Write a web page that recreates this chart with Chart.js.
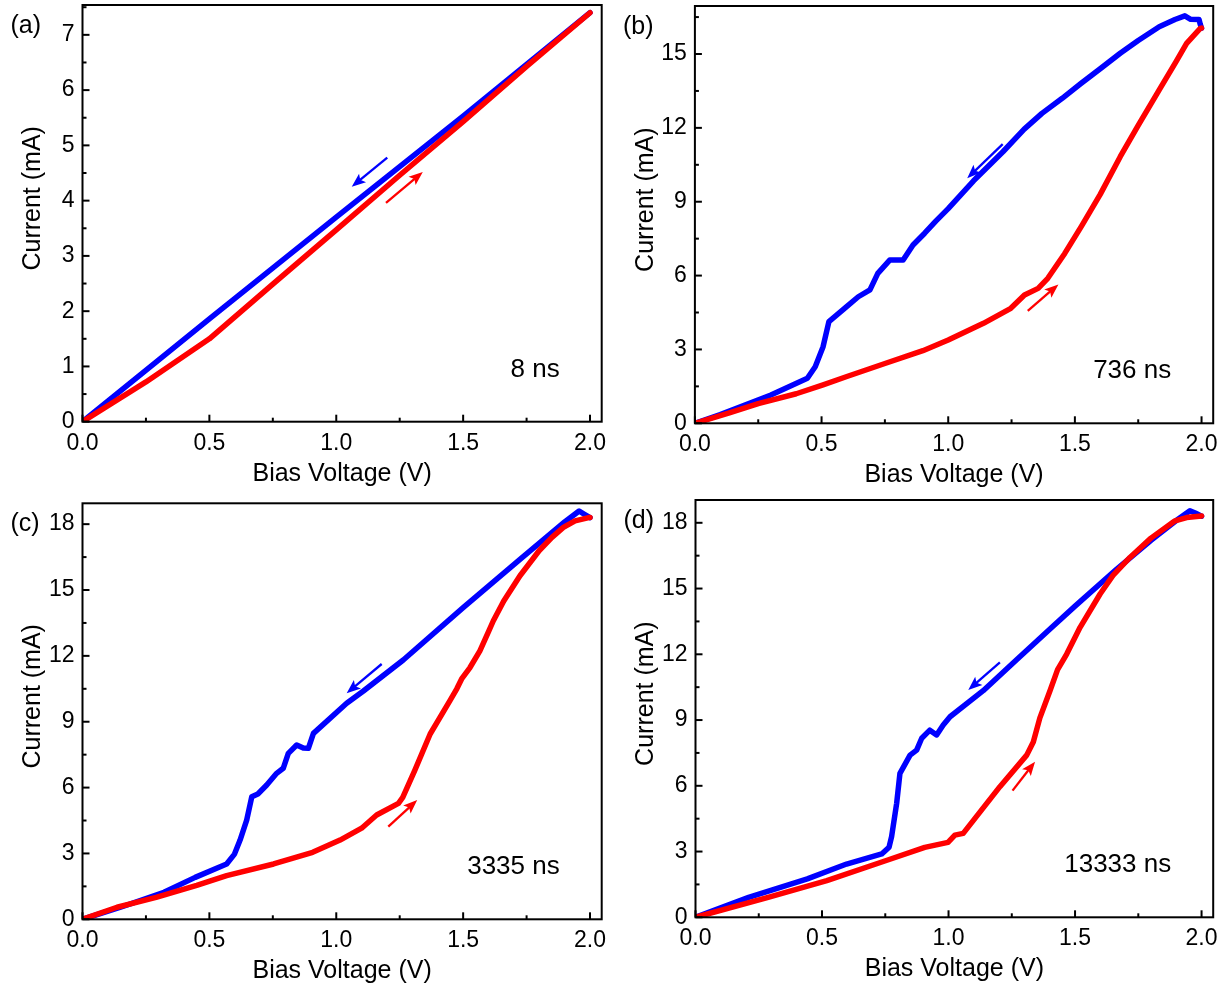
<!DOCTYPE html>
<html><head><meta charset="utf-8">
<script src="https://cdn.jsdelivr.net/npm/chart.js@4.4.1/dist/chart.umd.min.js"></script>
<style>
html,body{margin:0;padding:0;background:#fff;}
#fig{position:relative;width:1225px;height:988px;overflow:hidden;background:#fff;}
canvas{position:absolute;}
</style></head><body>
<div id="fig">
<canvas id="pa" width="612" height="494" style="left:0px;top:0px;width:612px;height:494px"></canvas>
<canvas id="pb" width="613" height="494" style="left:612px;top:0px;width:613px;height:494px"></canvas>
<canvas id="pc" width="612" height="494" style="left:0px;top:494px;width:612px;height:494px"></canvas>
<canvas id="pd" width="613" height="494" style="left:612px;top:494px;width:613px;height:494px"></canvas>
</div>
<script>
// ---------- data ----------
const xTickValues = [0.0, 0.5, 1.0, 1.5, 2.0];
const xTickLabels = ['0.0', '0.5', '1.0', '1.5', '2.0'];
const aYTicks = [0, 1, 2, 3, 4, 5, 6, 7];
const bYTicks = [0, 3, 6, 9, 12, 15];
const cYTicks = [0, 3, 6, 9, 12, 15, 18];
const dYTicks = [0, 3, 6, 9, 12, 15, 18];
const panelLabels = ['(a)', '(b)', '(c)', '(d)'];
const pulseWidths = ['8 ns', '736 ns', '3335 ns', '13333 ns'];
const xTitle = 'Bias Voltage (V)';
const yTitle = 'Current (mA)';

// (a) 8 ns
const aBlueV = [2.0, 1.5, 1.0, 0.5, 0.0];
const aBlueI = [7.40, 5.53, 3.70, 1.86, 0.0];
const aRedV = [0.0, 0.25, 0.5, 0.75, 1.0, 1.25, 1.5, 1.75, 2.0];
const aRedI = [0.0, 0.72, 1.50, 2.49, 3.47, 4.46, 5.43, 6.43, 7.40];
// (b) 736 ns
const bBlueV = [2.0, 1.995, 1.99, 1.957, 1.934, 1.895, 1.833, 1.75, 1.679, 1.6, 1.525, 1.45, 1.37, 1.3, 1.216, 1.1, 1.0, 0.95, 0.907, 0.861, 0.822, 0.769, 0.722, 0.691, 0.645, 0.599, 0.529, 0.506, 0.475, 0.444, 0.3, 0.2, 0.1, 0.0];
const bBlueI = [16.05, 16.2, 16.4, 16.41, 16.55, 16.4, 16.11, 15.55, 15.03, 14.4, 13.81, 13.2, 12.59, 11.95, 11.03, 9.85, 8.72, 8.2, 7.72, 7.24, 6.63, 6.63, 6.09, 5.42, 5.14, 4.74, 4.13, 3.11, 2.3, 1.83, 1.15, 0.75, 0.35, 0.0];
const bRedV = [0.0, 0.136, 0.25, 0.4, 0.506, 0.6, 0.753, 0.9, 1.0, 1.139, 1.247, 1.301, 1.355, 1.393, 1.46, 1.525, 1.6, 1.679, 1.75, 1.833, 1.9, 1.941, 1.995, 2.0];
const bRedI = [0.0, 0.42, 0.8, 1.2, 1.56, 1.9, 2.44, 2.95, 3.38, 4.06, 4.67, 5.21, 5.48, 5.89, 6.9, 7.99, 9.3, 10.83, 12.1, 13.54, 14.7, 15.43, 16.04, 16.05];
// (c) 3335 ns
const cBlueV = [2.0, 1.978, 1.957, 1.9, 1.724, 1.5, 1.264, 1.107, 1.041, 0.91, 0.89, 0.87, 0.844, 0.811, 0.791, 0.765, 0.726, 0.691, 0.667, 0.647, 0.621, 0.599, 0.568, 0.444, 0.321, 0.15, 0.0];
const cBlueI = [18.3, 18.45, 18.6, 18.1, 16.4, 14.2, 11.81, 10.4, 9.84, 8.47, 7.79, 7.8, 7.94, 7.56, 6.88, 6.65, 6.12, 5.71, 5.58, 4.52, 3.61, 2.97, 2.52, 1.91, 1.23, 0.55, 0.0];
const cRedV = [0.0, 0.136, 0.29, 0.45, 0.568, 0.753, 0.907, 1.015, 1.1, 1.159, 1.245, 1.262, 1.309, 1.37, 1.448, 1.475, 1.494, 1.527, 1.566, 1.6, 1.619, 1.66, 1.724, 1.8, 1.85, 1.895, 1.941, 1.995, 2.0];
const cRedI = [0.0, 0.55, 1.0, 1.55, 1.99, 2.52, 3.05, 3.61, 4.15, 4.75, 5.28, 5.55, 6.77, 8.44, 9.96, 10.5, 10.95, 11.47, 12.23, 13.1, 13.6, 14.5, 15.65, 16.8, 17.4, 17.85, 18.15, 18.3, 18.3];
// (d) 13333 ns
const dBlueV = [2.0, 1.975, 1.954, 1.9, 1.8, 1.665, 1.5, 1.401, 1.269, 1.137, 1.006, 0.979, 0.953, 0.926, 0.894, 0.874, 0.848, 0.808, 0.795, 0.775, 0.765, 0.736, 0.597, 0.442, 0.21, 0.0];
const dBlueI = [18.3, 18.45, 18.55, 18.1, 17.2, 15.89, 14.2, 13.15, 11.75, 10.34, 9.15, 8.77, 8.32, 8.54, 8.17, 7.63, 7.40, 6.57, 5.2, 3.68, 3.2, 2.89, 2.43, 1.75, 0.91, 0.0];
const dRedV = [0.0, 0.287, 0.519, 0.751, 0.906, 0.998, 1.025, 1.058, 1.203, 1.309, 1.335, 1.361, 1.401, 1.431, 1.467, 1.52, 1.599, 1.65, 1.717, 1.8, 1.895, 1.941, 2.0];
const dRedI = [0.0, 0.91, 1.67, 2.58, 3.19, 3.42, 3.75, 3.83, 5.96, 7.40, 8.0, 9.1, 10.34, 11.3, 12.01, 13.23, 14.75, 15.6, 16.42, 17.3, 18.09, 18.24, 18.31];

// direction arrows [tail, tip] in data units (V, mA)
const aArrowBlue = [[1.201, 4.78], [1.061, 4.25]];
const aArrowRed  = [[1.196, 3.96], [1.341, 4.52]];
const bArrowBlue = [[1.215, 11.34], [1.075, 9.95]];
const bArrowRed  = [[1.314, 4.57], [1.435, 5.64]];
const cArrowBlue = [[1.179, 11.63], [1.041, 10.30]];
const cArrowRed  = [[1.205, 4.22], [1.319, 5.43]];
const dArrowBlue = [[1.203, 11.63], [1.078, 10.37]];
const dArrowRed  = [[1.253, 5.78], [1.342, 7.10]];

// ---------- style / layout ----------
const FONT = "'Liberation Sans', Arial, Helvetica, sans-serif";
const BLUE = '#0000ff';
const RED = '#ff0000';
const INK = '#000000';

const panels = [
  {id:'pa', box:[0,0,612,494], area:[82.5,5,601.7,421.7], xMax:2.046, yMax:7.54, yMinor:0.5, yTicks:aYTicks,
   blueV:aBlueV, blueI:aBlueI, redV:aRedV, redI:aRedI, arrowBlue:aArrowBlue, arrowRed:aArrowRed, label:panelLabels[0], note:pulseWidths[0]},
  {id:'pb', box:[612,0,613,494], area:[694.9,6,1213.2,423.3], xMax:2.046, yMax:16.95, yMinor:1.5, yTicks:bYTicks,
   blueV:bBlueV, blueI:bBlueI, redV:bRedV, redI:bRedI, arrowBlue:bArrowBlue, arrowRed:bArrowRed, label:panelLabels[1], note:pulseWidths[1]},
  {id:'pc', box:[0,494,612,494], area:[82.5,503.3,601.7,919.3], xMax:2.046, yMax:18.95, yMinor:1.5, yTicks:cYTicks,
   blueV:cBlueV, blueI:cBlueI, redV:cRedV, redI:cRedI, arrowBlue:cArrowBlue, arrowRed:cArrowRed, label:panelLabels[2], note:pulseWidths[2]},
  {id:'pd', box:[612,494,613,494], area:[695.5,500,1213.2,917.3], xMax:2.046, yMax:19.04, yMinor:1.5, yTicks:dYTicks,
   blueV:dBlueV, blueI:dBlueI, redV:dRedV, redI:dRedI, arrowBlue:dArrowBlue, arrowRed:dArrowRed, label:panelLabels[3], note:pulseWidths[3]}
];

function near(a, b) { return Math.abs(a - b) < 1e-6; }
function onStep(v, step) { return near(v / step, Math.round(v / step)); }

function drawArrow(ctx, xs, ys, pts, color) {
  const x1 = xs.getPixelForValue(pts[0][0]), y1 = ys.getPixelForValue(pts[0][1]);
  const x2 = xs.getPixelForValue(pts[1][0]), y2 = ys.getPixelForValue(pts[1][1]);
  const ang = Math.atan2(y2 - y1, x2 - x1);
  const hl = 14, hw = 5.5;
  const c = Math.cos(ang), s = Math.sin(ang);
  const bx = x2 - hl * c, by = y2 - hl * s;
  ctx.strokeStyle = color; ctx.fillStyle = color; ctx.lineWidth = 2.3; ctx.lineCap = 'butt';
  ctx.beginPath(); ctx.moveTo(x1, y1); ctx.lineTo(bx + 4 * c, by + 4 * s); ctx.stroke();
  ctx.beginPath();
  ctx.moveTo(x2, y2);
  ctx.lineTo(bx + hw * s, by - hw * c);
  ctx.lineTo(bx + 3 * c, by + 3 * s);
  ctx.lineTo(bx - hw * s, by + hw * c);
  ctx.closePath(); ctx.fill();
}

function makePanel(p) {
  const [x0, y0, w, h] = p.box;
  const [L, T, R, B] = p.area;
  const padTop = T - y0, padRight = x0 + w - R, yW = L - x0, xH = y0 + h - B;
  const pts = (xs, ys) => xs.map((v, i) => ({x: v, y: ys[i]}));

  const decor = {
    id: 'decor_' + p.id,
    afterDraw(chart) {
      const ctx = chart.ctx, a = chart.chartArea, xs = chart.scales.x, ys = chart.scales.y;
      ctx.save();
      // arrows
      drawArrow(ctx, xs, ys, p.arrowBlue, BLUE);
      drawArrow(ctx, xs, ys, p.arrowRed, RED);
      // frame
      ctx.strokeStyle = INK; ctx.lineWidth = 2; ctx.lineCap = 'butt';
      ctx.strokeRect(a.left, a.top, a.right - a.left, a.bottom - a.top);
      // inward ticks
      xs.ticks.forEach(t => {
        if (!onStep(t.value, 0.25)) return;
        const major = xTickValues.some(v => near(v, t.value));
        const len = major ? 7 : 4;
        const px = xs.getPixelForValue(t.value);
        ctx.beginPath(); ctx.moveTo(px, a.bottom); ctx.lineTo(px, a.bottom - len); ctx.stroke();
      });
      ys.ticks.forEach(t => {
        if (!onStep(t.value, p.yMinor)) return;
        const major = p.yTicks.some(v => near(v, t.value));
        const len = major ? 7 : 4;
        const py = ys.getPixelForValue(t.value);
        ctx.beginPath(); ctx.moveTo(a.left, py); ctx.lineTo(a.left + len, py); ctx.stroke();
      });
      // texts
      ctx.fillStyle = INK;
      ctx.textBaseline = 'middle';
      ctx.font = '25px ' + FONT;
      ctx.textAlign = 'left';
      ctx.fillText(p.label, a.left - 72, a.top + 21);
      ctx.font = '26px ' + FONT;
      ctx.textAlign = 'right';
      ctx.fillText(p.note, a.right - 42, a.bottom - 52);
      ctx.font = '25px ' + FONT;
      ctx.textAlign = 'center';
      ctx.fillText(xTitle, (a.left + a.right) / 2, a.bottom + 52);
      ctx.save();
      ctx.translate(a.left - 49, (a.top + a.bottom) / 2 - 15);
      ctx.rotate(-Math.PI / 2);
      ctx.fillText(yTitle, 0, 0);
      ctx.restore();
      ctx.restore();
    }
  };

  const lineStyle = {showLine: true, borderWidth: 5.5, pointRadius: 0, pointHoverRadius: 0,
    borderJoinStyle: 'round', borderCapStyle: 'round', tension: 0, fill: false};

  new Chart(document.getElementById(p.id), {
    type: 'scatter',
    data: {datasets: [
      Object.assign({label: 'forward', data: pts(p.redV, p.redI), borderColor: RED, backgroundColor: RED}, lineStyle),
      Object.assign({label: 'backward', data: pts(p.blueV, p.blueI), borderColor: BLUE, backgroundColor: BLUE}, lineStyle)
    ]},
    options: {
      responsive: false, animation: false, events: [],
      layout: {padding: {top: padTop, right: padRight, bottom: 0, left: 0}},
      plugins: {legend: {display: false}, tooltip: {enabled: false}},
      scales: {
        x: {
          type: 'linear', position: 'bottom', min: 0, max: p.xMax, bounds: 'data',
          grid: {display: false, drawTicks: false}, border: {display: false},
          ticks: {stepSize: 0.25, includeBounds: false, autoSkip: false, maxRotation: 0, minRotation: 0,
            padding: 8, color: INK, font: {family: FONT, size: 23},
            callback: (v) => { const i = xTickValues.findIndex(t => near(t, v)); return i >= 0 ? xTickLabels[i] : ''; }},
          afterFit: (s) => { s.height = xH; s.paddingLeft = 0; s.paddingRight = 0; s.paddingTop = 0; s.paddingBottom = 0; }
        },
        y: {
          type: 'linear', position: 'left', min: 0, max: p.yMax, bounds: 'data',
          grid: {display: false, drawTicks: false}, border: {display: false},
          ticks: {stepSize: p.yMinor, includeBounds: false, autoSkip: false,
            padding: 8, color: INK, font: {family: FONT, size: 23},
            callback: (v) => { const i = p.yTicks.findIndex(t => near(t, v)); return i >= 0 ? String(p.yTicks[i]) : ''; }},
          afterFit: (s) => { s.width = yW; s.paddingLeft = 0; s.paddingRight = 0; s.paddingTop = 0; s.paddingBottom = 0; }
        }
      }
    },
    plugins: [decor]
  });
}

panels.forEach(makePanel);
</script>
</body></html>
